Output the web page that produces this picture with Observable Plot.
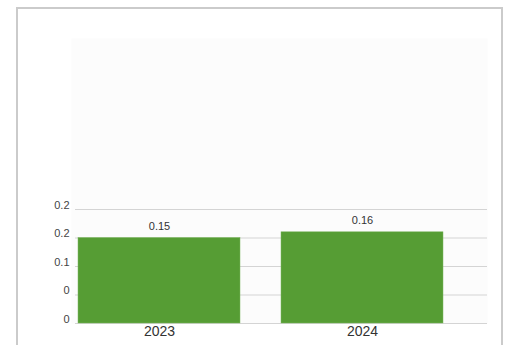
<!DOCTYPE html>
<html>
<head>
<meta charset="utf-8">
<script src="https://cdn.jsdelivr.net/npm/d3@7"></script>
<script src="https://cdn.jsdelivr.net/npm/@observablehq/plot@0.6"></script>
<style>
  html, body { margin: 0; padding: 0; background: #fff; }
  #wrap { position: relative; width: 509px; height: 345px; overflow: hidden; }
  #border { position: absolute; left: 16px; top: 7px; width: 483px; height: 360px; border: 2px solid #cbcbcb; box-sizing: content-box; pointer-events: none; }
  #chart { position: absolute; left: 0; top: 0; }
</style>
</head>
<body>
<div id="wrap"><div id="chart"></div><div id="border"></div></div>
<script>
const years = ["2023", "2024"];
const values = [0.15, 0.16];
const valueLabels = ["0.15", "0.16"];
const yTicks = [0, 0.05, 0.1, 0.15, 0.2];
const yTickLabels = ["0", "0", "0.1", "0.2", "0.2"];

const data = years.map((y, i) => ({year: y, value: values[i], label: valueLabels[i]}));

const chart = Plot.plot({
  width: 509,
  height: 345,
  marginLeft: 71,
  marginRight: 22,
  marginTop: 38,
  marginBottom: 22,
  style: {fontFamily: "Arial, 'Liberation Sans', sans-serif", background: "transparent"},
  x: {domain: years, range: [58, 464], paddingInner: 0.2, paddingOuter: 0.1, label: null},
  y: {domain: [0, 0.5], label: null},
  marks: [
    Plot.frame({fill: "#fcfcfc", stroke: null}),
    Plot.ruleY(yTicks, {stroke: "#d4d4d4", strokeWidth: 1, insetLeft: 4}),
    Plot.barY(data, {x: "year", y: "value", fill: "#569d34", stroke: "#7cb65f", strokeWidth: 0.5}),
    Plot.text(data, {x: "year", y: "value", text: "label", dy: -12, fontSize: 11, fill: "#333"}),
    Plot.axisY({ticks: yTicks, tickFormat: (d, i) => yTickLabels[i], tickSize: 0, tickPadding: 2, dy: -4.5, fontSize: 11, fill: "#444"}),
    Plot.axisX({tickSize: 0, tickPadding: 3, fontSize: 14, fill: "#333"})
  ]
});
document.getElementById("chart").append(chart);
</script>
</body>
</html>
